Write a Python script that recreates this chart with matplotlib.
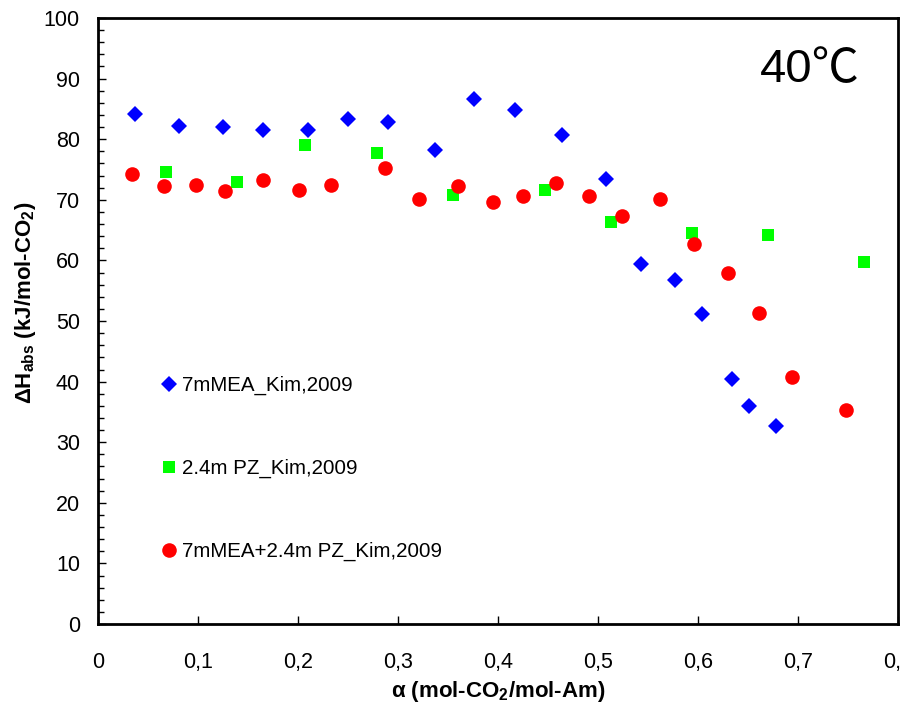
import matplotlib
matplotlib.use("Agg")
import matplotlib.pyplot as plt
from matplotlib.ticker import MultipleLocator, FuncFormatter

plt.rcParams['font.family'] = ['Liberation Sans', 'Noto Sans CJK JP', 'DejaVu Sans']
plt.rcParams['mathtext.fontset'] = 'custom'
plt.rcParams['mathtext.rm'] = 'Liberation Sans'
plt.rcParams['mathtext.bf'] = 'Liberation Sans:bold'
plt.rcParams['mathtext.it'] = 'Liberation Sans:italic'

# data
mea_x = [0.037, 0.081, 0.125, 0.165, 0.210, 0.250, 0.290, 0.337, 0.376, 0.417,
         0.464, 0.508, 0.543, 0.577, 0.604, 0.634, 0.651, 0.678]
mea_y = [84.1, 82.2, 82.0, 81.5, 81.5, 83.3, 82.8, 78.3, 86.6, 84.8,
         80.7, 73.4, 59.4, 56.8, 51.1, 40.4, 35.9, 32.6]

pz_x = [0.068, 0.139, 0.207, 0.279, 0.355, 0.447, 0.513, 0.594, 0.670, 0.766]
pz_y = [74.6, 72.9, 79.0, 77.7, 70.8, 71.6, 66.4, 64.5, 64.2, 59.7]

blend_x = [0.034, 0.066, 0.098, 0.127, 0.165, 0.201, 0.233, 0.287, 0.321, 0.360,
           0.395, 0.425, 0.458, 0.491, 0.524, 0.562, 0.596, 0.630, 0.661, 0.694, 0.748]
blend_y = [74.3, 72.3, 72.5, 71.5, 73.2, 71.6, 72.5, 75.3, 70.1, 72.3,
           69.7, 70.7, 72.8, 70.7, 67.3, 70.1, 62.7, 57.9, 51.4, 40.7, 35.3]

labels = ['7mMEA_Kim,2009', '2.4m PZ_Kim,2009', '7mMEA+2.4m PZ_Kim,2009']

fig = plt.figure(figsize=(9.01, 7.06), dpi=100)
ax = fig.add_axes([0.1088, 0.1161, 0.8879, 0.8584])

ax.plot(mea_x, mea_y, 'D', color='#0000FF', ms=8, mew=0, label=labels[0])
ax.plot(pz_x, pz_y, 's', color='#00FF00', ms=9, mew=0, label=labels[1])
ax.plot(blend_x, blend_y, 'o', color='#FF0000', ms=10.5, mew=0, label=labels[2])

ax.set_xlim(0, 0.8)
ax.set_ylim(0, 100)
ax.xaxis.set_major_locator(MultipleLocator(0.1))
ax.yaxis.set_major_locator(MultipleLocator(10))
ax.yaxis.set_minor_locator(MultipleLocator(2))
ax.xaxis.set_major_formatter(FuncFormatter(lambda v, p: ('%g' % round(v, 1)).replace('.', ',')))

for s in ax.spines.values():
    s.set_linewidth(2)
ax.tick_params(axis='both', which='both', direction='in', top=False, right=False,
               labelsize=15.5, width=1)
ax.tick_params(axis='y', which='major', length=6, pad=13)
ax.tick_params(axis='y', which='minor', length=4)
ax.tick_params(axis='x', which='major', length=6, pad=20)

ax.set_xlabel('α (mol-CO$_{\\mathbf{2}}$/mol-Am)', fontsize=16, fontweight='bold')
ax.set_ylabel('ΔH$_{\\mathbf{abs}}$ (kJ/mol-CO$_{\\mathbf{2}}$)', fontsize=16, fontweight='bold')
ax.xaxis.set_label_coords(0.5, -0.09)
ax.yaxis.set_label_coords(-0.075, 0.53)

ax.text(0.89, 0.914, '40℃', transform=ax.transAxes, fontsize=34,
        ha='center', va='center')

ax.legend(loc='upper left', bbox_to_anchor=(0.079, 0.409), frameon=False,
          numpoints=1, handlelength=0.8, handletextpad=0.22, labelspacing=3.1,
          borderpad=0, borderaxespad=0, fontsize=14.8)

fig.savefig('out.png', dpi=100)
